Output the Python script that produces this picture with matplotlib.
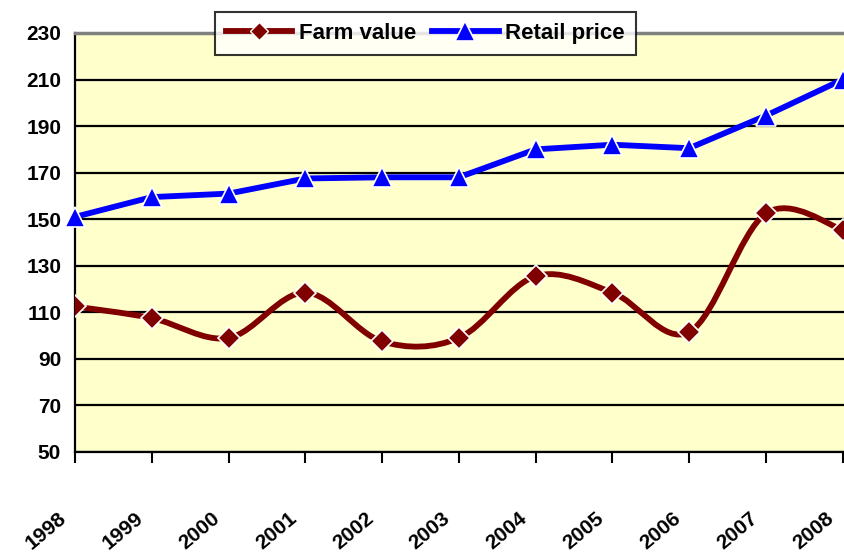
import numpy as np
import matplotlib
matplotlib.use("Agg")
import matplotlib.pyplot as plt
import matplotlib.transforms as mtransforms
from matplotlib.path import Path
from matplotlib.patches import PathPatch

years = ["1998", "1999", "2000", "2001", "2002", "2003", "2004", "2005", "2006", "2007", "2008"]
farm_value = [112.5, 107.5, 99, 118.5, 97.5, 99, 125.5, 118.5, 101.5, 152.5, 145.5]
retail_price = [151, 159.5, 161, 167.5, 168, 168, 180, 182, 180.5, 194.5, 210]
y_ticks = [50, 70, 90, 110, 130, 150, 170, 190, 210, 230]

FARM_COLOR = "#800000"
RETAIL_COLOR = "#0000FF"
FONT = ["Liberation Sans", "DejaVu Sans"]


def smooth_path(xs, ys, tension=1 / 6):
    # bezier path through the points, like the spreadsheet "smoothed line"
    pts = np.column_stack([xs, ys]).astype(float)
    n = len(pts)
    verts = [pts[0]]
    codes = [Path.MOVETO]
    for i in range(n - 1):
        p0 = pts[i - 1] if i > 0 else pts[i]
        p1 = pts[i]
        p2 = pts[i + 1]
        p3 = pts[i + 2] if i + 2 < n else pts[i + 1]
        c1 = p1 + (p2 - p0) * tension
        c2 = p2 - (p3 - p1) * tension
        verts += [c1, c2, p2]
        codes += [Path.CURVE4] * 3
    return Path(verts, codes)


fig = plt.figure(figsize=(8.45, 5.58), dpi=100)
ax = fig.add_axes([0.0888, 0.19, 0.9112, 0.7509])
ax.set_facecolor("#FFFFCC")

x = np.arange(len(years))

# farm value - smoothed line
ax.add_patch(PathPatch(smooth_path(x, farm_value), facecolor="none",
                       edgecolor=FARM_COLOR, lw=4.2, capstyle="round",
                       joinstyle="round", zorder=3))
ax.plot(x, farm_value, linestyle="none", marker="D", ms=11,
        mfc=FARM_COLOR, mec="white", mew=1.2, zorder=4)
# legend proxy
ax.plot([], [], color=FARM_COLOR, lw=4.2, marker="D", ms=9,
        mfc=FARM_COLOR, mec="white", label="Farm value")

ax.plot(x, retail_price, color=RETAIL_COLOR, lw=4.2, marker="^", ms=14,
        mfc=RETAIL_COLOR, mec="white", mew=1.2, zorder=4,
        label="Retail price", clip_on=False)

ax.set_xlim(0, 10.03)
ax.set_ylim(50, 230)
ax.set_yticks(y_ticks)
ax.set_yticklabels([str(v) for v in y_ticks], fontfamily=FONT,
                   fontweight="bold", fontsize=15)
ax.set_xticks(x)
ax.set_xticklabels(years, fontfamily=FONT, fontweight="bold", fontsize=15,
                   rotation=40, ha="right", va="center", rotation_mode="anchor")
ax.tick_params(axis="x", direction="out", length=8, width=1.5, pad=38)
ax.tick_params(axis="y", length=0, pad=10)

# nudge the year labels a bit to the left
shift = mtransforms.ScaledTranslation(-8 / 72, 0, fig.dpi_scale_trans)
for lab in ax.get_xticklabels():
    lab.set_transform(lab.get_transform() + shift)

ax.grid(axis="y", color="black", lw=1.6)
ax.set_axisbelow(True)
ax.spines["left"].set_linewidth(1.6)
ax.spines["bottom"].set_linewidth(1.6)
ax.spines["top"].set_color("#808080")
ax.spines["top"].set_linewidth(2.5)
ax.spines["right"].set_visible(False)

leg = ax.legend(loc="upper center", bbox_to_anchor=(0.455, 1.05), ncol=2,
                frameon=True, fancybox=False, edgecolor="black",
                handlelength=3, columnspacing=0.7, handletextpad=0.3,
                borderpad=0.5, borderaxespad=0,
                prop={"family": FONT, "weight": "bold", "size": 16})
leg.get_frame().set_linewidth(1.5)
leg.set_zorder(10)

fig.savefig("out.png", dpi=100)
